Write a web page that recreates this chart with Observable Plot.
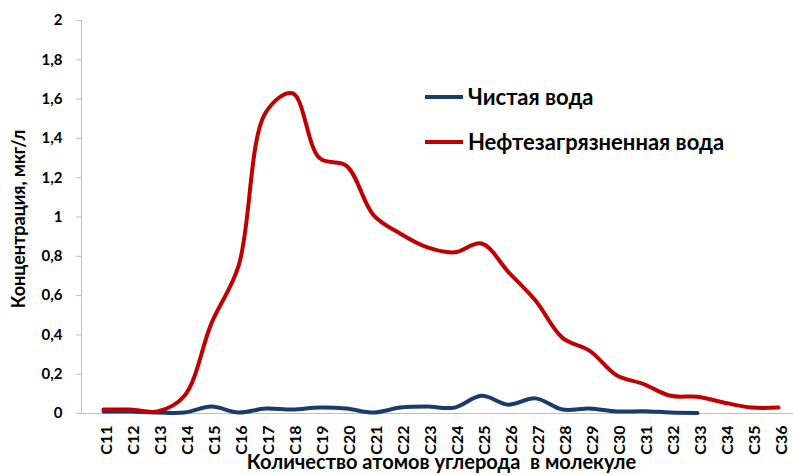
<!DOCTYPE html>
<html><head><meta charset="utf-8">
<script src="https://cdn.jsdelivr.net/npm/d3@7"></script>
<script src="https://cdn.jsdelivr.net/npm/@observablehq/plot@0.6"></script>
<style>body{margin:0;background:#fff} #chart{width:793px;height:475px}</style>
</head><body><div id="chart"></div>
<script>
const categories = ["C11","C12","C13","C14","C15","C16","C17","C18","C19","C20","C21","C22","C23","C24","C25","C26","C27","C28","C29","C30","C31","C32","C33","C34","C35","C36"];
const cleanWater = [0.01,0.01,0.005,0.005,0.035,0.005,0.025,0.02,0.03,0.025,0.005,0.03,0.035,0.03,0.09,0.045,0.077,0.02,0.025,0.01,0.012,0.005,0.003];
const pollutedWater = [0.02,0.02,0.01,0.09,0.46,0.75,1.53,1.63,1.30,1.26,1.01,0.915,0.845,0.82,0.865,0.72,0.575,0.385,0.32,0.195,0.15,0.09,0.085,0.055,0.03,0.03];
const yTicks = [0,0.2,0.4,0.6,0.8,1,1.2,1.4,1.6,1.8,2];
const seriesNames = ["Чистая вода","Нефтезагрязненная вода"];
const seriesColors = ["#1b3a6e","#c00000"];
const yTitle = "Концентрация, мкг/л";
const xTitle = "Количество атомов углерода  в молекуле";

const data = [];
cleanWater.forEach((v,i)=>data.push({cat:categories[i], value:v, series:seriesNames[0]}));
pollutedWater.forEach((v,i)=>data.push({cat:categories[i], value:v, series:seriesNames[1]}));

const fmt = d => String(d).replace(".", ",");

const plot = Plot.plot({
  width:793, height:475,
  marginLeft:81, marginTop:20, marginBottom:62, marginRight:0,
  style:{fontFamily:"Lato, sans-serif", fontWeight:"bold", fontSize:"15px", color:"#000", background:"#fff"},
  x:{type:"point", domain:categories, range:[95,785], padding:0},
  y:{domain:[0,2], range:[413,20]},
  color:{domain:seriesNames, range:seriesColors},
  marks:[
    Plot.ruleY([0], {stroke:"#bfbfbf", strokeWidth:1}),
    Plot.frame({anchor:"left", stroke:"#bfbfbf"}),
    Plot.axisY({ticks:yTicks, tickFormat:fmt, tickSize:5, tickPadding:14, stroke:"#bfbfbf", label:null, fontSize:15, fill:"#000"}),
    Plot.axisX({tickRotate:-90, tickSize:0, tickPadding:12, dx:3, label:null, fontSize:16, fill:"#000"}),
    Plot.line(data, {x:"cat", y:"value", z:"series", stroke:"series", strokeWidth:4, curve:"catmull-rom"}),
    Plot.text([yTitle], {frameAnchor:"left", textAnchor:"middle", dx:-62, dy:2, rotate:-90, fontSize:18, fontWeight:"bold", fill:"#000"}),
    Plot.text([xTitle], {frameAnchor:"bottom", textAnchor:"middle", dx:4, dy:55, fontSize:20, fontWeight:"bold", fill:"#000", text:d=>d})
  ]
});
document.getElementById("chart").appendChild(plot);

const svg = d3.select(plot);
const legend = svg.append("g").attr("font-family","Lato, sans-serif").attr("font-weight","bold").attr("font-size","22px").attr("text-anchor","start");
seriesNames.forEach((name,i)=>{
  const y = 97 + i*45;
  legend.append("line").attr("x1",425).attr("x2",463).attr("y1",y).attr("y2",y)
    .attr("stroke",seriesColors[i]).attr("stroke-width",4);
  legend.append("text").attr("x",468).attr("y",y).attr("dy","0.35em").attr("fill","#000").text(name);
});
</script>
</body></html>
